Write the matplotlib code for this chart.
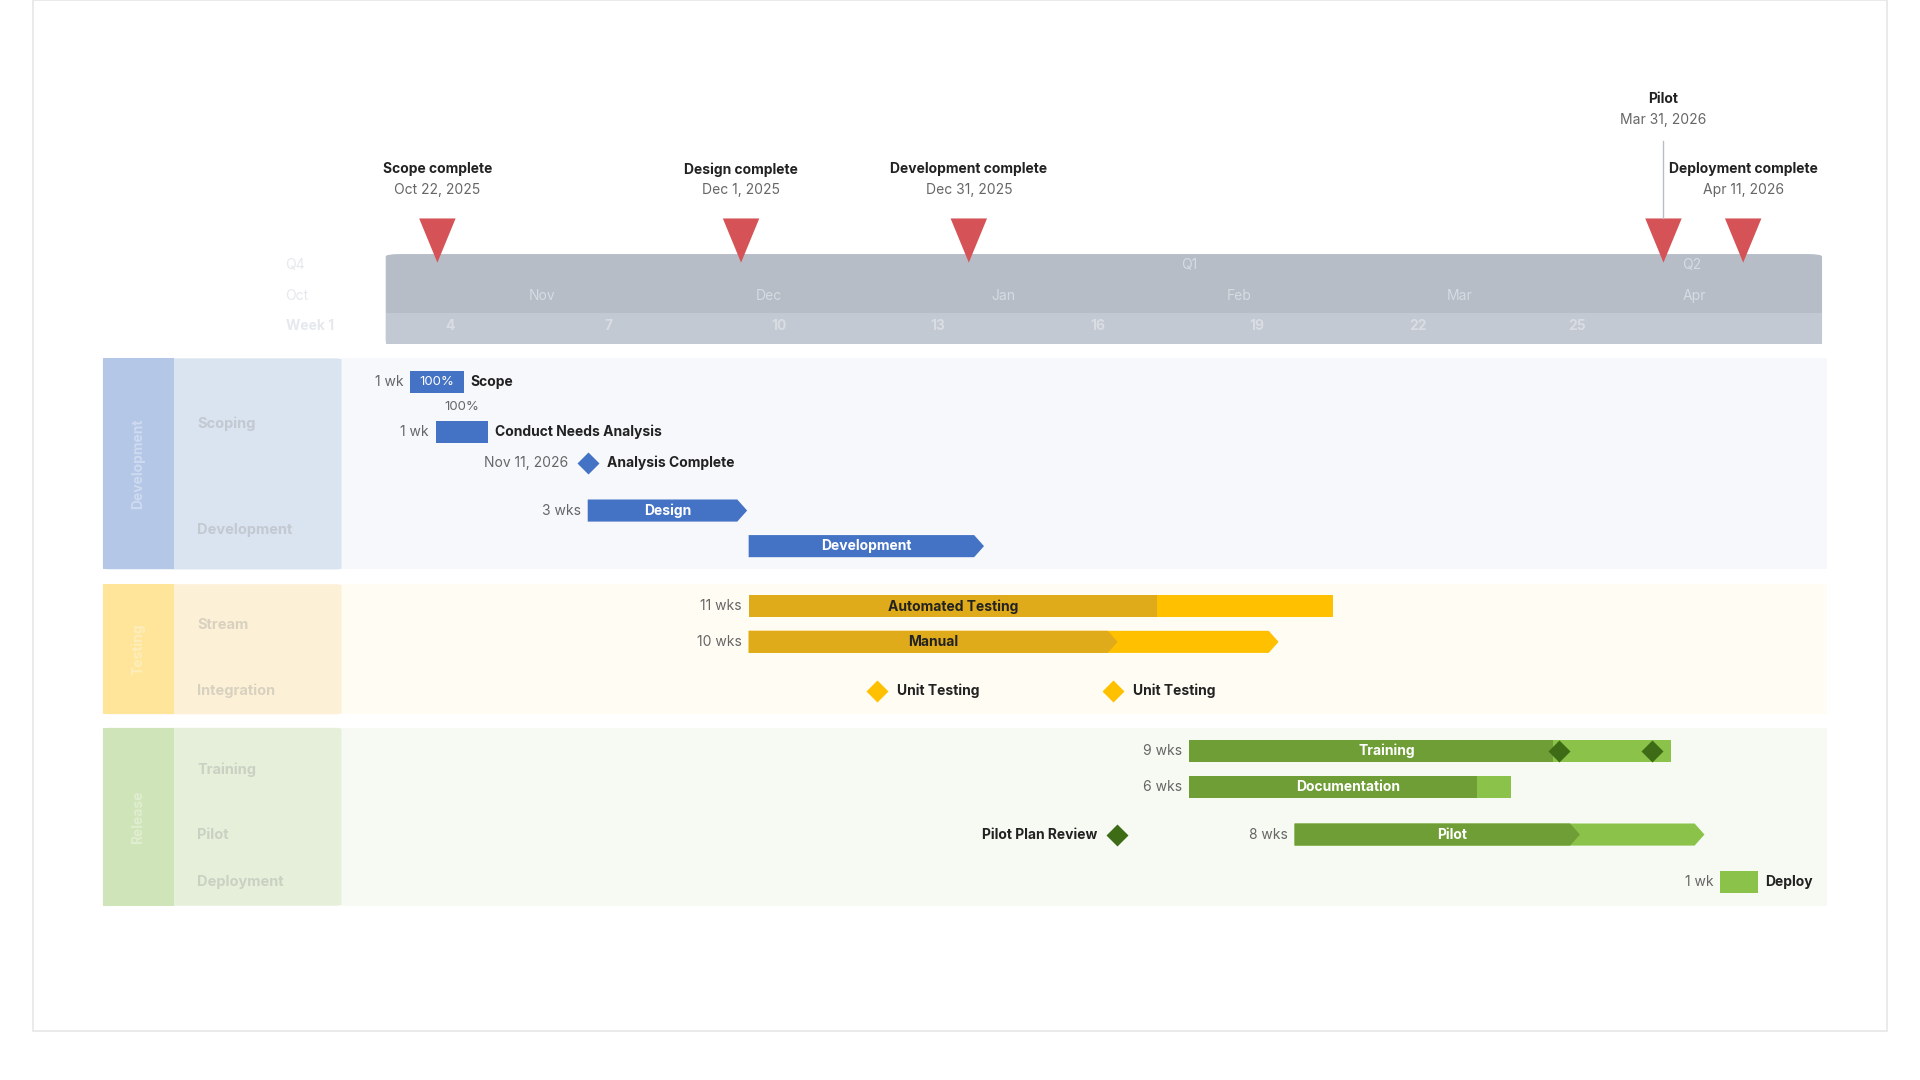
import matplotlib.pyplot as plt
from matplotlib.patches import Polygon, Rectangle, FancyBboxPatch
from matplotlib.patheffects import withStroke

plt.rcParams['font.family'] = ['Inter', 'DejaVu Sans']

# days counted from Oct 1, 2025
ms_names = ['Scope complete', 'Design complete', 'Development complete', 'Pilot', 'Deployment complete']
ms_dates = ['Oct 22, 2025', 'Dec 1, 2025', 'Dec 31, 2025', 'Mar 31, 2026', 'Apr 11, 2026']
ms_days = [21, 61, 91, 182.5, 193]

months = ['Oct', 'Nov', 'Dec', 'Jan', 'Feb', 'Mar', 'Apr']
month_days = [1, 33, 63, 94, 125, 154, 185]
weeks = ['Week 1', '4', '7', '10', '13', '16', '19', '22', '25']
week_days = [1, 22, 43, 65, 86, 107, 128, 149, 170]
quarters = ['Q4', 'Q1', 'Q2']
quarter_days = [1, 119, 185]

# tasks: name, start, end, progress end, row y, colour group, duration label, arrow, label inside
tasks = [
    ('Scope', 17.4, 24.5, 24.5, 311, 'blue', '1 wk', False, False),
    ('Conduct Needs Analysis', 20.8, 27.7, 27.7, 352, 'blue', '1 wk', False, False),
    ('Design', 40.8, 61.8, 61.8, 416, 'blue', '3 wks', True, True),
    ('Development', 62.0, 93.0, 93.0, 445, 'blue', '', True, True),
    ('Automated Testing', 62.0, 139.0, 115.8, 494, 'yellow', '11 wks', False, True),
    ('Manual', 62.0, 131.8, 110.6, 523, 'yellow', '10 wks', True, True),
    ('Training', 120.0, 183.5, 168.0, 612, 'green', '9 wks', False, True),
    ('Documentation', 120.0, 162.4, 157.9, 641, 'green', '6 wks', False, True),
    ('Pilot', 133.9, 187.9, 171.5, 680, 'green', '8 wks', True, True),
    ('Deploy', 190.0, 195.0, 195.0, 719, 'green', '1 wk', False, False),
]
# diamonds: label, day, row y, group, label side
diamonds = [
    ('Analysis Complete', 40.8, 377, 'blue', 'right'),
    ('Unit Testing', 78.9, 563, 'yellow', 'right'),
    ('Unit Testing', 110.0, 563, 'yellow', 'right'),
    ('', 168.7, 612, 'green', 'none'),
    ('', 181.0, 612, 'green', 'none'),
    ('Pilot Plan Review', 110.5, 680, 'green', 'left'),
]
lanes = ['Development', 'Testing', 'Release']
lane_y = [(292, 464), (476, 582), (593, 738)]
sublanes = [('Scoping', 345), ('Development', 432), ('Stream', 509), ('Integration', 563),
            ('Training', 627), ('Pilot', 680), ('Deployment', 719)]

dark = {'blue': '#4472c4', 'yellow': '#dfab1a', 'green': '#6f9e37'}
light = {'blue': '#4472c4', 'yellow': '#ffc000', 'green': '#8bc34a'}
dia = {'blue': '#4472c4', 'yellow': '#ffc000', 'green': '#3e6b16'}
lane_dark = ['#b4c7e7', '#fee599', '#cfe4b8']
lane_mid = ['#dae3f0', '#fcf0d6', '#e5efda']
lane_bg = ['#f6f8fc', '#fffcf4', '#f6faf2']

PX = 6.2   # pixels per day
X0 = 227   # pixel of day 0
def d(px):
    return (px - X0) / PX

fig = plt.figure(figsize=(19.2, 10.8), dpi=100)
ax = fig.add_axes([0, 0, 1, 1])
ax.set_xlim(d(0), d(1568))
ax.set_ylim(880, 0)
ax.axis('off')

# card
ax.add_patch(Rectangle((d(27), 0), d(1541) - d(27), 840, fc='white', ec='#e6e6e6', lw=1.2))

# header band
ax.add_patch(FancyBboxPatch((d(315), 207), d(1488) - d(315), 73, boxstyle='round,pad=0,rounding_size=2',
                            fc='#b6bdc7', ec='none'))
ax.add_patch(Rectangle((d(315), 255), d(1488) - d(315), 25, fc='#c3c9d2', ec='none'))
hs = dict(color='#dfe3e8', fontsize=10, va='center', alpha=0.8)
for q, x in zip(quarters, quarter_days):
    ax.text(x, 216, q, **hs)
for m, x in zip(months, month_days):
    ax.text(x, 241, m, **hs)
for w, x in zip(weeks, week_days):
    ax.text(x, 266, w, fontweight='bold', **hs)

# milestones
for i, (n, dt, x) in enumerate(zip(ms_names, ms_dates, ms_days)):
    tw = 2.4
    ax.add_patch(Polygon([(x - tw, 178), (x + tw, 178), (x, 214)], fc='#d55356', ec='none'))
    ty = 81 if n == 'Pilot' else 138
    ax.text(x, ty, n, ha='center', va='center', fontsize=10, fontweight='bold', color='#222')
    ax.text(x, ty + 17, dt, ha='center', va='center', fontsize=10, color='#666')
    if n == 'Pilot':
        ax.plot([x, x], [115, 178], color='#b9bec6', lw=1)

# lanes
for i, (name, (y0, y1)) in enumerate(zip(lanes, lane_y)):
    ax.add_patch(Rectangle((d(279), y0), d(1492) - d(279), y1 - y0, fc=lane_bg[i], ec='none'))
    ax.add_patch(FancyBboxPatch((d(84), y0), d(279) - d(84), y1 - y0, boxstyle='round,pad=0,rounding_size=1',
                                fc=lane_mid[i], ec='none'))
    ax.add_patch(Rectangle((d(84), y0), d(142) - d(84), y1 - y0, fc=lane_dark[i], ec='none'))
    ax.text(d(113), (y0 + y1) / 2, name, rotation=90, ha='center', va='center', fontsize=10,
            color='white', alpha=0.35, fontweight='bold')
for name, y in sublanes:
    ax.text(d(161), y, name, va='center', fontsize=10.5, color='#999', alpha=0.35, fontweight='bold')

H = 9  # half bar height in px
TIP = 1.3
def bar_shape(x0, x1, y, arrow):
    if arrow:
        return [(x0, y - H), (x1 - TIP, y - H), (x1, y), (x1 - TIP, y + H), (x0, y + H)]
    return [(x0, y - H), (x1, y - H), (x1, y + H), (x0, y + H)]

for name, s, e, p, y, g, dur, arrow, inside in tasks:
    ax.add_patch(Polygon(bar_shape(s, e, y, arrow), fc=light[g], ec='none'))
    if p < e:
        ax.add_patch(Polygon(bar_shape(s, p, y, name == 'Manual' or name == 'Pilot'), fc=dark[g], ec='none'))
    if dur:
        ax.text(s - 0.9, y, dur, ha='right', va='center', fontsize=10, color='#666')
    if inside:
        c = '#222' if g == 'yellow' else 'white'
        ax.text((s + e - (e - p) * 0.0) / 2 if p == e else (s + p) / 2 + (2 if g != 'yellow' else 0), y, name,
                ha='center', va='center', fontsize=10, fontweight='bold', color=c)
    else:
        ax.text(e + 0.9, y, name, ha='left', va='center', fontsize=10, fontweight='bold', color='#222')
    if name == 'Scope':
        ax.text((s + e) / 2, y, '100%', ha='center', va='center', fontsize=9.5, color='white')
    if name == 'Conduct Needs Analysis':
        ax.text((s + e) / 2, y - 20, '100%', ha='center', va='center', fontsize=9.5, color='#666')

for name, x, y, g, side in diamonds:
    ax.plot(x, y, marker='D', ms=11, color=dia[g], mec='none')
    if side == 'right':
        ax.text(x + 2.6, y, name, ha='left', va='center', fontsize=10, fontweight='bold', color='#222')
    elif side == 'left':
        ax.text(x - 2.6, y, name, ha='right', va='center', fontsize=10, fontweight='bold', color='#222')
ax.text(40.8 - 2.6, 377, 'Nov 11, 2026', ha='right', va='center', fontsize=10, color='#666')

fig.savefig('out.png', dpi=100, facecolor='white')
